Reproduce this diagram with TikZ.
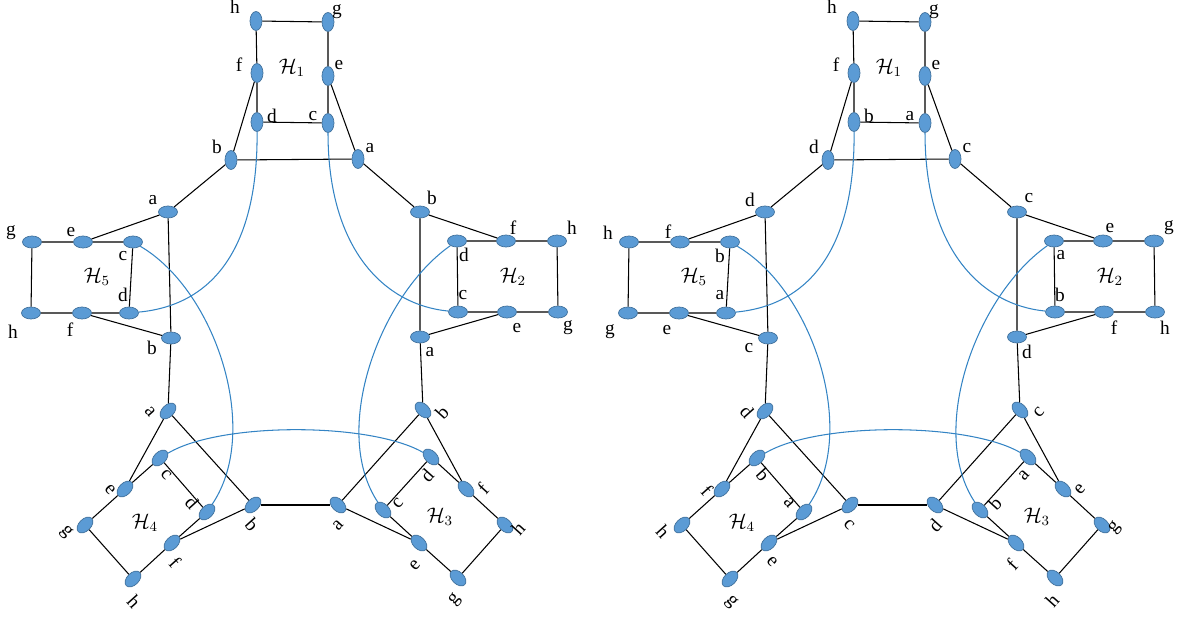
\documentclass[tikz,border=0pt]{standalone}
\usepackage{fontspec}
\setmainfont{Liberation Serif}
\usetikzlibrary{shapes.geometric}

\definecolor{vblue}{RGB}{91,155,213}
\definecolor{vline}{RGB}{65,113,156}
\definecolor{linkblue}{RGB}{52,132,196}

\tikzset{
  vtx/.style={ellipse, fill=vblue, draw=vline, line width=0.4pt,
    minimum width=0.38cm, minimum height=0.24cm, inner sep=0pt},
  lab/.style={font=\fontsize{11}{13}\selectfont, inner sep=0pt},
  hname/.style={font=\fontsize{12}{14}\selectfont, inner sep=0pt},
  bline/.style={line width=0.6pt},
  blink/.style={linkblue, line width=0.6pt}
}

% one copy of the graph, #1=1 gives the left labels, #1=2 the right ones
\newcommand{\hgraph}[1]{%
  % H1
  \foreach \n/\x/\y/\lx/\ly/\p/\q in {h/256/21/235/7/h/h, g/328/22/337/12/g/g,
      f/257/73/239/65/f/f, e/328/76/339/65/e/e, d/257/122/272/116/d/b,
      c/328/123/313/116/c/a, b/231/160/217/147/b/d, a/358/159/370/148/a/c}{
    \node[vtx, rotate=90] (1\n) at (\x,\y) {};
    \node[lab] (t1\n) at (\lx,\ly) {\ifnum#1=1 \p\else\q\fi};
  }
  % H5
  \foreach \n/\x/\y/\lx/\ly/\p/\q in {a/168/212/153/200/a/d, g/32/242/11/233/g/h,
      e/83/242/71/232/e/f, c/133/242/123/256/c/b, h/31/313/13/332/h/g,
      f/82/313/70/330/f/e, d/129/313/123/295/d/a, b/171/338/152/348/b/c}{
    \node[vtx] (5\n) at (\x,\y) {};
    \node[lab] (t5\n) at (\lx,\ly) {\ifnum#1=1 \p\else\q\fi};
  }
  % H2
  \foreach \n/\x/\y/\lx/\ly/\p/\q in {b/420/212/432/198/b/c, d/457/241/464/255/d/a,
      f/506/241/513/228/f/e, h/557/241/572/228/h/g, c/458/312/463/295/c/b,
      e/507/312/517/328/e/f, g/558/312/568/328/g/h, a/420/337/430/352/a/d}{
    \node[vtx] (2\n) at (\x,\y) {};
    \node[lab] (t2\n) at (\lx,\ly) {\ifnum#1=1 \p\else\q\fi};
  }
  % H4
  \foreach \n/\x/\y/\lx/\ly/\p/\q in {a/168/411/150/412/a/d, c/160/458/166/475/c/b,
      e/125/489/110/490/e/f, g/85/525/66/532/g/h, d/207/512/192/503/d/a,
      b/253/505/252/525/b/c, f/172/543/175/562/f/e, h/133/579/134/602/h/g}{
    \node[vtx, rotate=45] (4\n) at (\x,\y) {};
    \node[lab, rotate=-48] (t4\n) at (\lx,\ly) {\ifnum#1=1 \p\else\q\fi};
  }
  % H3
  \foreach \n/\x/\y/\lx/\ly/\p/\q in {b/423/410/442/412/b/c, d/431/457/427/475/d/a,
      f/466/489/483/489/f/e, h/505/525/518/528/h/g, a/338/505/338/525/a/d,
      c/383/510/398/503/c/b, e/419/543/415/565/e/f, g/458/578/455/600/g/h}{
    \node[vtx, rotate=-45] (3\n) at (\x,\y) {};
    \node[lab, rotate=48] (t3\n) at (\lx,\ly) {\ifnum#1=1 \p\else\q\fi};
  }
  \node[hname] (n1) at (292,68) {$\mathcal{H}_1$};
  \node[hname] (n5) at (97,277) {$\mathcal{H}_5$};
  \node[hname] (n2) at (513,277) {$\mathcal{H}_2$};
  \node[hname] (n4) at (145,523) {$\mathcal{H}_4$};
  \node[hname] (n3) at (440,517) {$\mathcal{H}_3$};

  % Draw the edges
  \draw[bline] (1f) -- (1h) -- (1g) -- (1e) -- (1c) -- (1d) -- (1f);
  \draw[bline] (1f) -- (1b) -- (1a) -- (1e);
  \draw[bline] (5e) -- (5g) -- (5h) -- (5f) -- (5d) -- (5c) -- (5e);
  \draw[bline] (5e) -- (5a) -- (5b) -- (5f);
  \draw[bline] (2f) -- (2h) -- (2g) -- (2e) -- (2c) -- (2d) -- (2f);
  \draw[bline] (2f) -- (2b) -- (2a) -- (2e);
  \draw[bline] (4e) -- (4g) -- (4h) -- (4f) -- (4d) -- (4c) -- (4e);
  \draw[bline] (4e) -- (4a) -- (4b) -- (4f);
  \draw[bline] (3f) -- (3h) -- (3g) -- (3e) -- (3c) -- (3d) -- (3f);
  \draw[bline] (3f) -- (3b) -- (3a) -- (3e);
  % links between the blocks
  \draw[bline] (1b) -- (5a);
  \draw[bline] (1a) -- (2b);
  \draw[bline] (5b) -- (4a);
  \draw[bline] (2a) -- (3b);
  \draw[bline] (4b) -- (3a);
  % blue links
  \draw[blink] (1d) .. controls (258,245) and (215,305) .. (5d);
  \draw[blink] (1c) .. controls (328,250) and (385,305) .. (2c);
  \draw[blink] (2d) .. controls (380,295) and (330,430) .. (3c);
  \draw[blink] (5c) .. controls (215,290) and (262,430) .. (4d);
  \draw[blink] (4c) .. controls (220,422) and (370,422) .. (3d);
}

\begin{document}
\begin{tikzpicture}[x=0.02cm, y=-0.02cm]
  \useasboundingbox (0,0) rectangle (1189,619);
  \begin{scope}[name prefix=L-]
    \hgraph{1}
  \end{scope}
  \begin{scope}[name prefix=R-, shift={(597,0)}]
    \hgraph{2}
  \end{scope}
\end{tikzpicture}
\end{document}
